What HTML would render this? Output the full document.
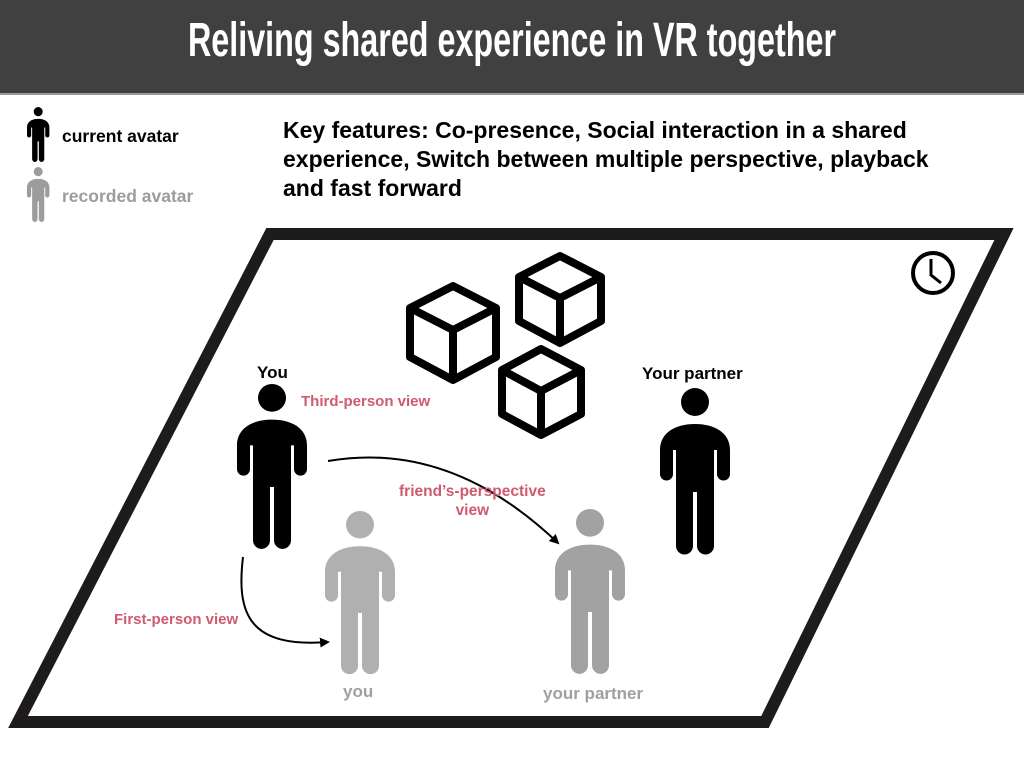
<!DOCTYPE html>
<html><head><meta charset="utf-8"><style>
html,body{margin:0;padding:0;background:#fff;}
body{width:1024px;height:768px;overflow:hidden;position:relative;font-family:"Liberation Sans",sans-serif;}
.hdr{position:absolute;left:0;top:0;width:1024px;height:93px;background:#404040;border-bottom:2px solid #9a9a9a;}
.hdr div{position:absolute;left:0;width:1024px;top:13px;text-align:center;color:#fff;font-family:"Liberation Sans",sans-serif;font-weight:bold;font-size:48px;transform:scaleX(0.673);transform-origin:512px 0;white-space:nowrap;}
.t{position:absolute;font-weight:bold;white-space:nowrap;}
</style></head><body>
<div class="hdr"><div>Reliving shared experience in VR together</div></div>
<svg width="1024" height="768" style="position:absolute;left:0;top:0">
<defs>
<g id="fig">
<circle cx="35" cy="14" r="14"/>
<path d="M0,62 C0,45 15,36 35,36 C55,36 70,45 70,62 V86 A6.5,6.5 0 0 1 57,86 V62 H54 V158 A8.5,8.5 0 0 1 37,158 V104 H33 V158 A8.5,8.5 0 0 1 16,158 V62 H13 V86 A6.5,6.5 0 0 1 0,86 Z"/>
</g>
<marker id="ah" markerWidth="10" markerHeight="10" refX="8" refY="5" orient="auto" markerUnits="userSpaceOnUse"><path d="M0,0 L10,5 L0,10 Z" fill="#000"/></marker>
</defs>
<polygon points="270,234 1004,234 765,722 18,722" fill="#fff" stroke="#1e1c1b" stroke-width="12" stroke-linejoin="miter"/>
<g fill="#000"><use href="#fig" transform="translate(27,107) scale(0.32,0.33)"/></g>
<g fill="#9c9c9c"><use href="#fig" transform="translate(27,167) scale(0.32,0.33)"/></g>
<g fill="#000"><use href="#fig" transform="translate(237,384) scale(1,0.99)"/></g>
<g fill="#000"><use href="#fig" transform="translate(660,388)"/></g>
<g fill="#b0b0b0"><use href="#fig" transform="translate(325,511) scale(1,0.98)"/></g>
<g fill="#a2a2a2"><use href="#fig" transform="translate(555,509) scale(1,0.99)"/></g>
<g fill="#fff" stroke="#000" stroke-width="8" stroke-linejoin="round">
<path d="M453,286 L496,308 L496,357 L453,380 L410,357 L410,308 Z M410,308 L453,330 L496,308 M453,330 L453,380"/>
<path d="M560,256 L601,277 L601,321 L560,343 L519,321 L519,277 Z M519,277 L560,298 L601,277 M560,298 L560,343"/>
<path d="M541,349 L581,370 L581,414 L541,435 L502,414 L502,370 Z M502,370 L541,391 L581,370 M541,391 L541,435"/>
</g>
<circle cx="933" cy="273" r="20" fill="#fff" stroke="#000" stroke-width="4"/>
<path d="M931,259 L931,275 L941,283" fill="none" stroke="#000" stroke-width="3"/>
<path d="M328,461 Q450,440 558,543" fill="none" stroke="#000" stroke-width="2" marker-end="url(#ah)"/>
<path d="M243,557 C236,615 250,648 328,642" fill="none" stroke="#000" stroke-width="2" marker-end="url(#ah)"/>
</svg>
<div class="t" style="left:62px;top:126px;font-size:17.5px;color:#000">current avatar</div>
<div class="t" style="left:62px;top:186px;font-size:17.5px;color:#9c9c9c">recorded avatar</div>
<div class="t" style="left:283px;top:116px;font-size:23px;line-height:29px;color:#000">Key features: Co-presence, Social interaction in a shared<br>experience, Switch between multiple perspective, playback<br>and fast forward</div>
<div class="t" style="left:257px;top:363px;font-size:17px">You</div>
<div class="t" style="left:642px;top:364px;font-size:17px">Your partner</div>
<div class="t" style="left:301px;top:393px;font-size:15px;color:#d05a6e">Third-person view</div>
<div class="t" style="left:399px;top:482px;font-size:15.5px;color:#d05a6e;text-align:center;line-height:19px">friend’s-perspective<br>view</div>
<div class="t" style="left:114px;top:611px;font-size:15px;color:#d05a6e">First-person view</div>
<div class="t" style="left:343px;top:682px;font-size:17px;color:#a0a0a0">you</div>
<div class="t" style="left:543px;top:684px;font-size:17px;color:#a0a0a0">your partner</div>
</body></html>
